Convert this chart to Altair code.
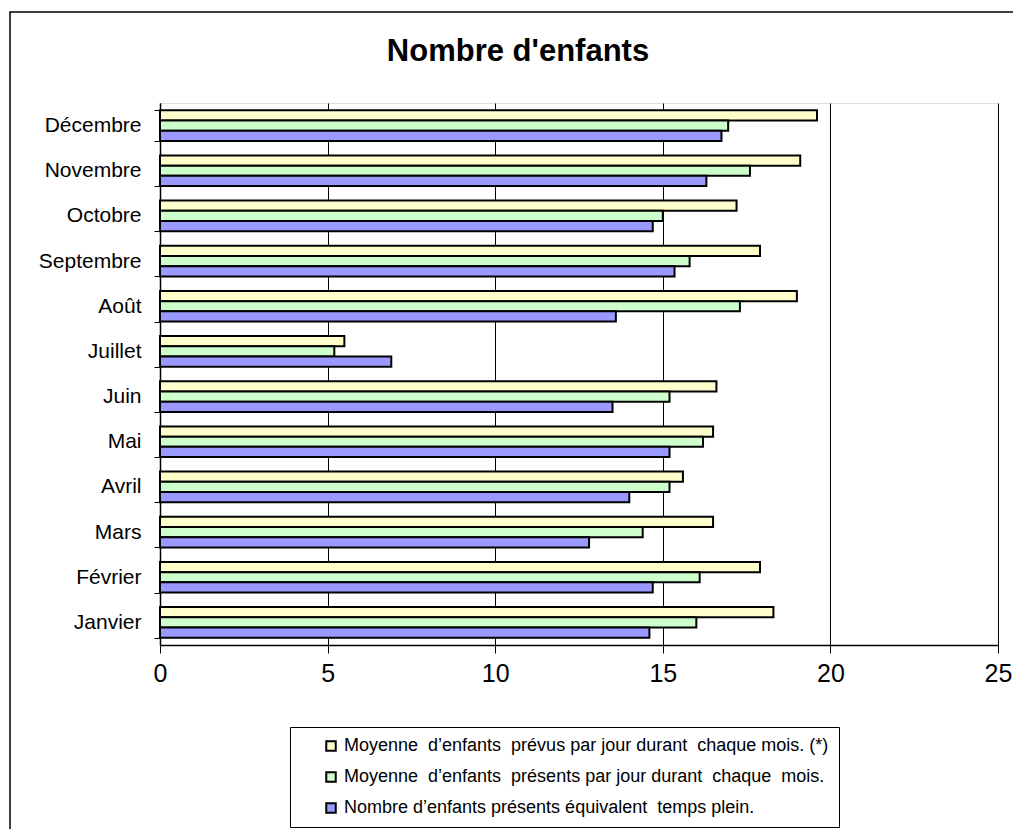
import altair as alt
import pandas as pd

months = ["Janvier", "Février", "Mars", "Avril", "Mai", "Juin", "Juillet",
          "Août", "Septembre", "Octobre", "Novembre", "Décembre"]
series = [
    "Moyenne\u00a0 d’enfants\u00a0 prévus par jour durant\u00a0 chaque mois. (*)",
    "Moyenne\u00a0 d’enfants\u00a0 présents par jour durant\u00a0 chaque\u00a0 mois.",
    "Nombre d’enfants présents équivalent\u00a0 temps plein.",
]
prevus = [18.3, 17.9, 16.5, 15.6, 16.5, 16.6, 5.5, 19.0, 17.9, 17.2, 19.1, 19.6]
presents = [16.0, 16.1, 14.4, 15.2, 16.2, 15.2, 5.2, 17.3, 15.8, 15.0, 17.6, 16.95]
etp = [14.6, 14.7, 12.8, 14.0, 15.2, 13.5, 6.9, 13.6, 15.35, 14.7, 16.3, 16.75]
colors = ["#FFFFCC", "#CCFFCC", "#9999FF"]
x_ticks = [0, 5, 10, 15, 20, 25]

rows = []
for s, vals in zip(series, [prevus, presents, etp]):
    for m, v in zip(months, vals):
        rows.append({"mois": m, "serie": s, "valeur": v})
df = pd.DataFrame(rows)

FONT = "Liberation Sans"

bars = alt.Chart(df).mark_bar(stroke="black", strokeWidth=2).encode(
    y=alt.Y("mois:N", sort=months[::-1], title=None,
            scale=alt.Scale(paddingInner=0.32, paddingOuter=0.16),
            axis=alt.Axis(labelFontSize=21, labelFont=FONT, labelColor="black",
                          tickSize=6, tickColor="black", tickBand="extent",
                          labelPadding=13, domainColor="black", domainWidth=1.5,
                          grid=False)),
    yOffset=alt.YOffset("serie:N", sort=series,
                        scale=alt.Scale(paddingInner=0, paddingOuter=0)),
    x=alt.X("valeur:Q", title=None,
            scale=alt.Scale(domain=[0, 25], nice=False),
            axis=alt.Axis(values=x_ticks, labelFontSize=25, labelFont=FONT,
                          labelColor="black", tickSize=8, tickColor="black",
                          labelPadding=8, labelFlush=False,
                          domainColor="black", domainWidth=1.5,
                          grid=True, gridColor="black", gridWidth=1)),
    color=alt.Color("serie:N", sort=series,
                    scale=alt.Scale(domain=series, range=colors),
                    legend=alt.Legend(title=None, orient="none",
                                      legendX=130, legendY=624,
                                      labelFontSize=18, labelFont=FONT,
                                      labelColor="black", labelLimit=700,
                                      symbolType="square", symbolSize=90,
                                      symbolStrokeColor="black",
                                      symbolStrokeWidth=2,
                                      symbolOffset=22, labelOffset=4,
                                      padding=10, rowPadding=13,
                                      strokeColor="black", fillColor="white")),
)

frame = alt.Chart(pd.DataFrame({"f": [0]})).mark_rect(
    fill=None, stroke="black", strokeWidth=1.5, clip=False
).encode(
    x=alt.value(-150), x2=alt.value(900),
    y=alt.value(-91), y2=alt.value(800),
)

chart = alt.layer(frame, bars).properties(
    width=838, height=542,
    title=alt.TitleParams("Nombre d'enfants", font=FONT, fontSize=31,
                          fontWeight="bold", color="black", offset=-81,
                          baseline="alphabetic", dx=-61),
    autosize=alt.AutoSizeParams(type="none"),
    padding={"left": 152, "top": 95, "right": 15, "bottom": 184},
).configure_view(stroke="#808080", strokeWidth=2).configure(background="white")

chart.save("out.html", embed_options={"renderer": "svg", "actions": False})
